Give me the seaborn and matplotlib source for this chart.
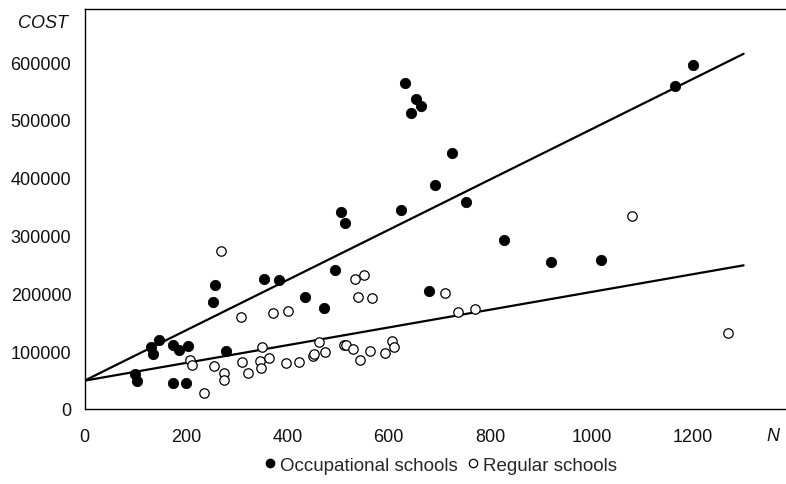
import numpy as np
import pandas as pd
import seaborn as sns
import matplotlib
matplotlib.use("Agg")
import matplotlib.pyplot as plt
from matplotlib.lines import Line2D

# ---- data ----
occ_n = [100, 103, 131, 135, 147, 174, 174, 186, 200, 205, 253, 258, 280, 355, 384,
         435, 473, 494, 505, 513, 624, 633, 644, 654, 664, 680, 691, 725, 752, 827,
         921, 1019, 1165, 1201]
occ_cost = [60600, 49000, 107800, 94600, 119400, 44500, 110700, 102100, 44500, 109500,
            185100, 214000, 100300, 224400, 223700, 193300, 174700, 241000, 340300, 321800,
            343800, 564500, 512100, 535800, 524200, 204200, 387000, 443400, 358700, 292400,
            254900, 257300, 559300, 595700]

reg_n = [208, 212, 236, 255, 269, 276, 276, 308, 310, 323, 347, 348, 351, 363, 372,
         397, 401, 424, 451, 452, 462, 475, 512, 516, 530, 533, 539, 544, 552, 564,
         568, 593, 606, 610, 712, 737, 770, 1080, 1269]
reg_cost = [84800, 76600, 27700, 74400, 273400, 61800, 50700, 159700, 81800, 62800,
            83000, 70900, 106700, 88200, 165600, 79100, 170100, 81300, 91200, 95200,
            115400, 98600, 111200, 111200, 103300, 224900, 194300, 85300, 231800, 99800,
            192600, 96900, 117600, 106700, 200200, 168300, 173000, 334400, 132000]

fit_intercept = 49000
fit_slopes = {"Occupational schools": 435.0, "Regular schools": 153.5}
fit_range = [0, 1300]

x_ticks = [0, 200, 400, 600, 800, 1000, 1200]
y_ticks = [0, 100000, 200000, 300000, 400000, 500000, 600000]

# ---- frames ----
pts = pd.DataFrame({
    "N": occ_n + reg_n,
    "COST": occ_cost + reg_cost,
    "type": ["Occupational schools"] * len(occ_n) + ["Regular schools"] * len(reg_n),
})
fit_rows = []
for name, slope in fit_slopes.items():
    for xv in fit_range:
        fit_rows.append({"N": xv, "COST": fit_intercept + slope * xv, "type": name})
fits = pd.DataFrame(fit_rows)

sns.set_theme(style="white")
plt.rcParams["font.family"] = ["Liberation Sans", "DejaVu Sans"]

fig = plt.figure(figsize=(7.86, 4.85), dpi=100)
ax = fig.add_axes([84.5 / 786, 1 - 410 / 485, 1 - 84.5 / 786, 400 / 485])

sns.lineplot(data=fits, x="N", y="COST", units="type", estimator=None,
             color="black", linewidth=1.6, ax=ax, legend=False)

occ = pts[pts["type"] == "Occupational schools"]
reg = pts[pts["type"] == "Regular schools"]
sns.scatterplot(data=occ, x="N", y="COST", color="black", edgecolor="black",
                s=55, linewidth=0.6, ax=ax, legend=False, zorder=3)
sns.scatterplot(data=reg, x="N", y="COST", color="white", edgecolor="black",
                s=46, linewidth=0.9, ax=ax, legend=False, zorder=3)

ax.set_xlim(0, (786 - 84.5) / 0.507)
ax.set_ylim(0, 692000)
ax.set_xticks(x_ticks)
ax.set_yticks(y_ticks)
ax.set_xticklabels([str(v) for v in x_ticks])
ax.set_yticklabels([str(v) for v in y_ticks])
ax.set_xlabel("")
ax.set_ylabel("")
for s in ["left", "bottom", "top"]:
    ax.spines[s].set_visible(True)
    ax.spines[s].set_color("black")
    ax.spines[s].set_linewidth(1.0)
ax.spines["right"].set_visible(False)
ax.tick_params(axis="both", which="major", direction="out", length=4.5, width=0.8,
               color="#444444", labelsize=13, labelcolor="#111111")
ax.tick_params(axis="y", pad=5)
ax.tick_params(axis="x", pad=9)
ax.grid(False)

fig.text(43 / 786, 1 - 24 / 485, "COST", fontsize=13, style="italic",
         ha="center", va="center", color="#111111")
fig.text(773 / 786, 1 - 437 / 485, "N", fontsize=13, style="italic",
         ha="center", va="center", color="#111111")

handles = [
    Line2D([], [], marker="o", linestyle="none", markerfacecolor="black",
           markeredgecolor="black", markersize=6),
    Line2D([], [], marker="o", linestyle="none", markerfacecolor="white",
           markeredgecolor="black", markersize=6, markeredgewidth=0.9),
]
fig.legend(handles, ["Occupational schools", "Regular schools"], loc="center",
           bbox_to_anchor=(440 / 786, 1 - 466 / 485), ncol=2, frameon=False,
           fontsize=13.5, handletextpad=0.15, columnspacing=0.4, handlelength=0.8,
           borderpad=0)

fig.savefig("out.png", dpi=100)
